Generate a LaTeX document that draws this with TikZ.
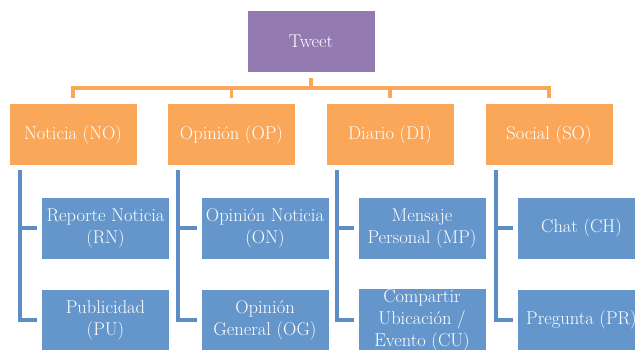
\documentclass[tikz,border=0pt]{standalone}
\usepackage{fontspec}
\definecolor{tweetpurple}{RGB}{147,122,176}
\definecolor{catorange}{RGB}{250,167,90}
\definecolor{subblue}{RGB}{100,150,203}
\definecolor{linkblue}{RGB}{92,141,197}
\begin{document}
\begin{tikzpicture}[x=1pt,y=-1pt,
  box/.style={inner sep=0pt,outer sep=0pt,minimum width=127pt,minimum height=61pt,
    text=white,align=center,font=\fontsize{18.5}{22}\selectfont},
  topbox/.style={box,fill=tweetpurple},
  catbox/.style={box,fill=catorange},
  subbox/.style={box,fill=subblue},
  orangelink/.style={draw=catorange,line width=3.5pt},
  bluelink/.style={draw=linkblue,line width=4pt,shorten <=5pt,shorten >=5pt}]
\useasboundingbox (0,0) rectangle (635,349);
\clip (0,0) rectangle (635,349);
\node[topbox] (tweet) at (311,41){Tweet};
\node[catbox] (no) at (73,134.5){Noticia (NO)};
\node[catbox] (op) at (231.5,134.5){Opinión (OP)};
\node[catbox] (di) at (390,134.5){Diario (DI)};
\node[catbox] (so) at (549,134.5){Social (SO)};
\node[subbox] (rn) at (105.5,228){Reporte Noticia\\(RN)};
\node[subbox] (pu) at (105.5,320){Publicidad\\(PU)};
\node[subbox] (on) at (265,228){Opinión Noticia\\(ON)};
\node[subbox] (og) at (265,320){Opinión\\General (OG)};
\node[subbox] (mp) at (422,228){Mensaje\\Personal (MP)};
\node[subbox] (cu) at (422,320){Compartir\\Ubicación /\\Evento (CU)};
\node[subbox] (ch) at (581.5,228){Chat (CH)};
\node[subbox] (pr) at (581.5,320){Pregunta (PR)};
\coordinate (hub) at (311,88);
\draw[orangelink,shorten <=6pt] (tweet) -- (hub);
\foreach \cat in {no,op,di,so}
  \draw[orangelink,shorten >=6pt] (hub) -| (\cat);
\draw[bluelink] ([xshift=10pt]no.south west) |- (rn);
\draw[bluelink] ([xshift=10pt]no.south west) |- (pu);
\draw[bluelink] ([xshift=10pt]op.south west) |- (on);
\draw[bluelink] ([xshift=10pt]op.south west) |- (og);
\draw[bluelink] ([xshift=10pt]di.south west) |- (mp);
\draw[bluelink] ([xshift=10pt]di.south west) |- (cu);
\draw[bluelink] ([xshift=10pt]so.south west) |- (ch);
\draw[bluelink] ([xshift=10pt]so.south west) |- (pr);
\end{tikzpicture}
\end{document}
